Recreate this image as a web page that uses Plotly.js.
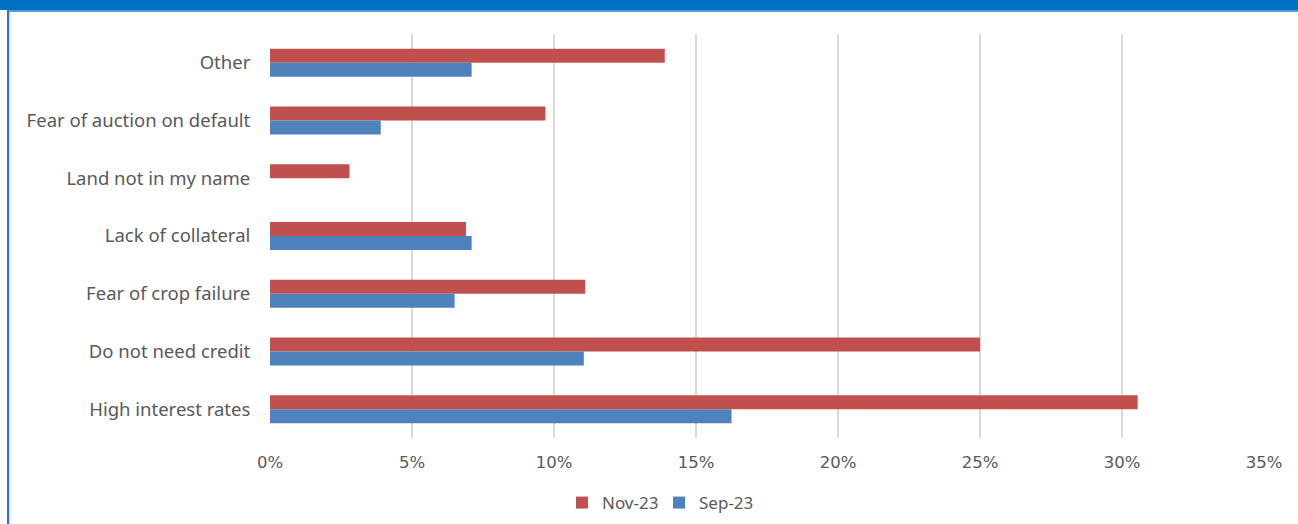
<!DOCTYPE html>
<html>
<head>
<meta charset="utf-8">
<script src="https://cdn.plot.ly/plotly-3.0.1.min.js"></script>
<style>
html,body{margin:0;padding:0;background:#fff;}
#chart{width:1298px;height:524px;}
</style>
</head>
<body>
<div id="chart"></div>
<script>
const categories = ["Other", "Fear of auction on default", "Land not in my name", "Lack of collateral", "Fear of crop failure", "Do not need credit", "High interest rates"];
const nov23 = [13.9, 9.7, 2.8, 6.9, 11.1, 25.0, 30.55];
const sep23 = [7.1, 3.9, 0, 7.1, 6.5, 11.05, 16.25];
const seriesNames = ["Nov-23", "Sep-23"];
const tickVals = [0, 5, 10, 15, 20, 25, 30, 35];
const tickText = ["0%", "5%", "10%", "15%", "20%", "25%", "30%", "35%"];

const W = 1298, H = 524;
const mL = 270, mR = 34, mT = 34, mB = 86;
const pw = W - mL - mR, ph = H - mT - mB;
function px(x){ return (x - mL) / pw; }
function py(y){ return (H - mB - y) / ph; }

const traces = [
  {type: "bar", orientation: "h", name: seriesNames[0], y: categories, x: nov23,
   marker: {color: "#C0504D", line: {width: 0}}, hoverinfo: "x+y"},
  {type: "bar", orientation: "h", name: seriesNames[1], y: categories, x: sep23,
   marker: {color: "#4F81BD", line: {width: 0}}, hoverinfo: "x+y"}
];

const layout = {
  width: W, height: H,
  margin: {l: mL, r: mR, t: mT, b: mB, pad: 0, autoexpand: false},
  paper_bgcolor: "#ffffff", plot_bgcolor: "#ffffff",
  barmode: "group", bargap: 0.515, bargroupgap: 0,
  font: {family: "Noto Sans, Open Sans, sans-serif", color: "#595959", size: 16},
  xaxis: {
    range: [0, 35], tickvals: tickVals, ticktext: tickText,
    showgrid: true, gridcolor: "#d9d9d9", gridwidth: 1.6,
    zeroline: false, showline: false,
    ticks: "outside", ticklen: 9, tickcolor: "rgba(0,0,0,0)",
    tickfont: {family: "DejaVu Sans, sans-serif", size: 16.5, color: "#595959"},
    automargin: false, fixedrange: true
  },
  yaxis: {
    autorange: "reversed", type: "category",
    showgrid: false, zeroline: false, showline: false,
    ticks: "outside", ticklen: 15, tickcolor: "rgba(0,0,0,0)",
    tickfont: {family: "Noto Sans, sans-serif", size: 18.5, color: "#595959"},
    automargin: false, fixedrange: true
  },
  legend: {
    orientation: "h", xref: "container", yref: "container",
    x: 562 / W, xanchor: "left", y: 1 - 503 / H, yanchor: "middle",
    entrywidth: 52, entrywidthmode: "pixels",
    font: {family: "Noto Sans, sans-serif", size: 17, color: "#595959"},
    itemwidth: 30, itemclick: false, itemdoubleclick: false,
    bgcolor: "rgba(0,0,0,0)", borderwidth: 0
  },
  showlegend: true,
  shapes: [
    {type: "rect", xref: "paper", yref: "paper", x0: px(0), x1: px(W), y0: py(10), y1: py(0),
     fillcolor: "#0070C0", line: {width: 0}, layer: "above"},
    {type: "rect", xref: "paper", yref: "paper", x0: px(8), x1: px(W), y0: py(12), y1: py(10),
     fillcolor: "#5B9BD5", line: {width: 0}, layer: "above"},
    {type: "rect", xref: "paper", yref: "paper", x0: px(7), x1: px(9), y0: py(H), y1: py(10),
     fillcolor: "#2E75C5", line: {width: 0}, layer: "above"},
    {type: "rect", xref: "paper", yref: "paper", x0: px(9), x1: px(10.5), y0: py(H), y1: py(12),
     fillcolor: "#d9d9d9", line: {width: 0}, layer: "above"}
  ]
};

Plotly.newPlot("chart", traces, layout, {displayModeBar: false});
</script>
</body>
</html>
